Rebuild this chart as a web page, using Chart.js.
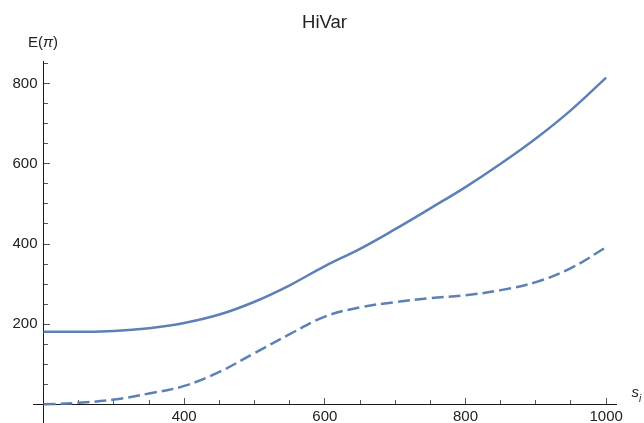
<!DOCTYPE html>
<html>
<head>
<meta charset="utf-8">
<script src="https://cdn.jsdelivr.net/npm/chart.js@4"></script>
<style>
html, body { margin: 0; padding: 0; background: #fff; }
</style>
</head>
<body>
<canvas id="c" width="644" height="423"></canvas>
<script>
// s_i sample points
const sValues = [200, 250, 300, 350, 400, 450, 500, 550, 600, 650, 700, 750, 800, 850, 900, 950, 1000];
// E(pi), solid curve
const solidValues = [181, 181, 183, 190, 203, 224, 256, 297, 345, 388, 437, 489, 542, 600, 663, 734, 815];
// E(pi), dashed curve
const dashedValues = [0, 4, 12, 27, 46, 81, 128, 175, 219, 242, 255, 265, 272, 285, 305, 340, 392];

// ticks
const xMajorTicks = [400, 600, 800, 1000];
const xMinorTicks = [250, 300, 350, 450, 500, 550, 650, 700, 750, 850, 900, 950];
const yMajorTicks = [200, 400, 600, 800];
const yMinorTicks = [50, 100, 150, 250, 300, 350, 450, 500, 550, 650, 700, 750, 850];

const FONT = 'Liberation Sans';
const LINE = '#5E81B5';
const AXIS = '#1a1a1a';
const TICK = '#555';

// centred axes should not take room from the plot
function noSize(scale) {
    if (scale.isHorizontal()) scale.height = 0; else scale.width = 0;
    scale.paddingTop = scale.paddingBottom = scale.paddingLeft = scale.paddingRight = 0;
}
const useTicks = list => scale => { scale.ticks = list.map(v => ({ value: v })); };

const axisLabels = {
    id: 'axisLabels',
    afterDraw(chart) {
        const { ctx, chartArea, scales: { x, y } } = chart;
        const x0 = x.getPixelForValue(200);
        const y0 = y.getPixelForValue(0);
        ctx.save();
        ctx.fillStyle = '#222';
        ctx.textBaseline = 'alphabetic';
        ctx.textAlign = 'left';

        // E(π)
        let px = x0 - 15.5;
        const py = chartArea.top - 14.5;
        ctx.font = '15px "' + FONT + '"';
        ctx.fillText('E(', px, py);
        px += ctx.measureText('E(').width;
        ctx.font = 'italic 15px "' + FONT + '"';
        ctx.fillText('\u03C0', px, py);
        px += ctx.measureText('\u03C0').width;
        ctx.font = '15px "' + FONT + '"';
        ctx.fillText(')', px, py);

        // s_i
        let sx = chartArea.right + 15.5;
        ctx.font = 'italic 15px "' + FONT + '"';
        ctx.fillText('s', sx, y0 - 7);
        sx += ctx.measureText('s').width;
        ctx.font = 'italic 10px "' + FONT + '"';
        ctx.fillText('i', sx, y0 - 2);
        ctx.restore();
    }
};

const toPoints = vals => sValues.map((s, i) => ({ x: s, y: vals[i] }));

new Chart(document.getElementById('c'), {
    type: 'line',
    data: {
        datasets: [
            {
                data: toPoints(solidValues),
                borderColor: LINE, borderWidth: 2.5, pointRadius: 0,
                tension: 0.4, fill: false
            },
            {
                data: toPoints(dashedValues),
                borderColor: LINE, borderWidth: 2.5, pointRadius: 0, borderDash: [12, 5],
                tension: 0.4, fill: false
            }
        ]
    },
    options: {
        responsive: false,
        animation: false,
        layout: { padding: { left: 33, right: 28, top: 0, bottom: 1 } },
        plugins: {
            legend: { display: false },
            tooltip: { enabled: false },
            title: {
                display: true, text: 'HiVar', color: '#222',
                font: { family: FONT, size: 18.5, weight: 'normal', lineHeight: 1.2 },
                padding: { top: 12, bottom: 27 }
            }
        },
        scales: {
            x: {
                type: 'linear', min: 185, max: 1014, position: { y: 0 },
                afterFit: noSize, afterBuildTicks: useTicks(xMajorTicks),
                border: { color: AXIS, width: 1 },
                grid: { drawOnChartArea: false, tickLength: -7, tickColor: TICK },
                ticks: {
                    autoSkip: false, maxRotation: 0, padding: 10,
                    color: '#222', font: { family: FONT, size: 15 },
                    callback: v => String(v)
                }
            },
            xMinor: {
                type: 'linear', min: 185, max: 1014, position: { y: 0 },
                afterFit: noSize, afterBuildTicks: useTicks(xMinorTicks),
                border: { display: false },
                grid: { drawOnChartArea: false, tickLength: -4, tickColor: TICK },
                ticks: { autoSkip: false, display: false }
            },
            y: {
                type: 'linear', min: -44, max: 856, position: { x: 200 },
                afterFit: noSize, afterBuildTicks: useTicks(yMajorTicks),
                border: { color: AXIS, width: 1 },
                grid: { drawOnChartArea: false, tickLength: -7, tickColor: TICK },
                ticks: {
                    autoSkip: false, padding: 10,
                    color: '#222', font: { family: FONT, size: 15 },
                    // labels sit on the axis line here, so pad them off it
                    callback: v => String(v) + '\u2009\u2009'
                }
            },
            yMinor: {
                type: 'linear', min: -44, max: 856, position: { x: 200 },
                afterFit: noSize, afterBuildTicks: useTicks(yMinorTicks),
                border: { display: false },
                grid: { drawOnChartArea: false, tickLength: -4, tickColor: TICK },
                ticks: { autoSkip: false, display: false }
            }
        }
    },
    plugins: [axisLabels]
});
</script>
</body>
</html>
